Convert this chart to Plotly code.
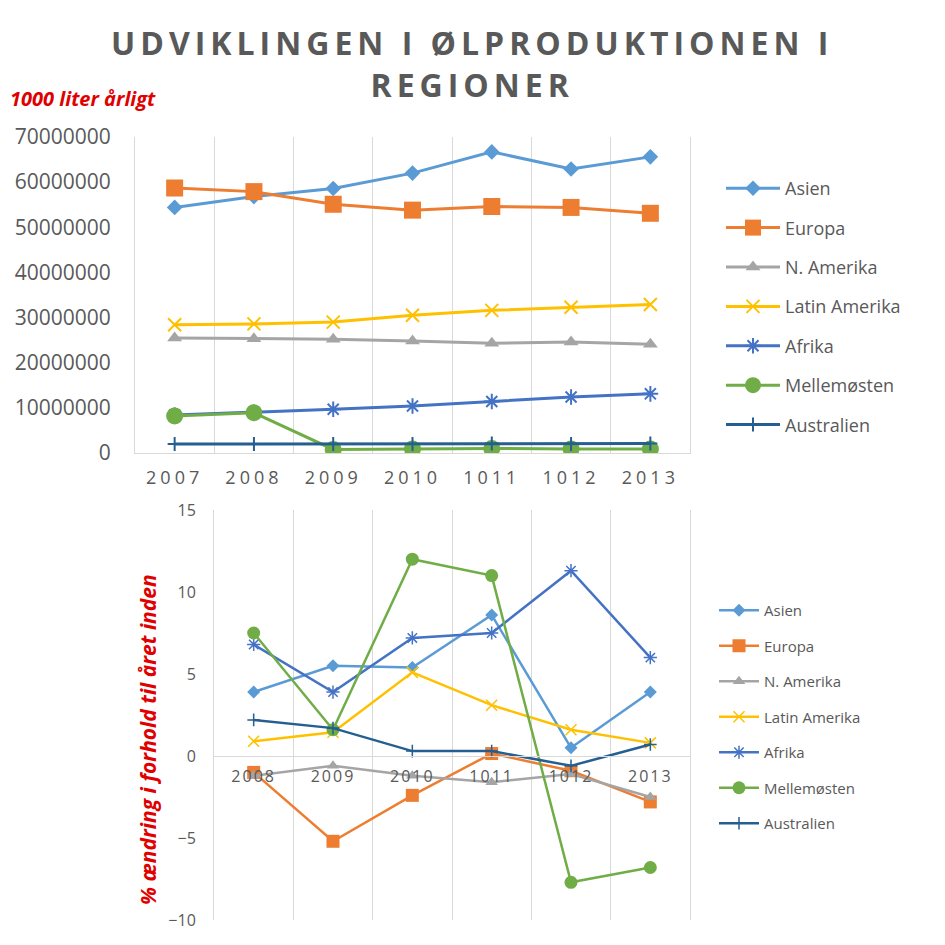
import plotly.graph_objects as go

# ---------------- data ----------------
years_top = ["2007", "2008", "2009", "2010", "1011", "1012", "2013"]
years_bottom = ["2008", "2009", "2010", "1011", "1012", "2013"]

regions = ["Asien", "Europa", "N. Amerika", "Latin Amerika", "Afrika", "Mellemøsten", "Australien"]

# production, 1000 liter per year
asien_prod = [54400000, 56800000, 58600000, 62000000, 66700000, 62900000, 65600000]
europa_prod = [58700000, 57900000, 55100000, 53800000, 54600000, 54400000, 53100000]
namerika_prod = [25500000, 25300000, 25200000, 24800000, 24300000, 24600000, 24100000]
latin_prod = [28400000, 28600000, 29000000, 30500000, 31600000, 32300000, 32900000]
afrika_prod = [8400000, 9000000, 9700000, 10400000, 11400000, 12400000, 13100000]
mellem_prod = [8200000, 8900000, 800000, 900000, 1000000, 900000, 900000]
austr_prod = [2000000, 2000000, 2000000, 2000000, 2100000, 2000000, 2100000]

# % change vs previous year
asien_pct = [3.9, 5.5, 5.4, 8.6, 0.5, 3.9]
europa_pct = [-1.0, -5.2, -2.4, 0.15, -0.9, -2.8]
namerika_pct = [-1.2, -0.6, -1.2, -1.6, -1.1, -2.5]
latin_pct = [0.9, 1.45, 5.1, 3.1, 1.6, 0.8]
afrika_pct = [6.8, 3.9, 7.2, 7.5, 11.3, 6.0]
mellem_pct = [7.5, 1.6, 12.0, 11.0, -7.7, -6.8]
austr_pct = [2.2, 1.7, 0.3, 0.3, -0.6, 0.7]

prod_series = [asien_prod, europa_prod, namerika_prod, latin_prod, afrika_prod, mellem_prod, austr_prod]
pct_series = [asien_pct, europa_pct, namerika_pct, latin_pct, afrika_pct, mellem_pct, austr_pct]

colors = ["#5B9BD5", "#ED7D31", "#A5A5A5", "#FFC000", "#4472C4", "#70AD47", "#255E91"]
symbols = ["diamond", "square", "triangle-up", "x-thin-open", "asterisk-open", "circle", "cross-thin-open"]
top_sizes = [12, 17, 13, 13, 13, 17, 10]
bot_sizes = [10, 13, 11, 11, 11, 13, 9]

title_text = "UDVIKLINGEN I ØLPRODUKTIONEN I<br>REGIONER"
unit_text = "1000 liter årligt"
pct_title = "% ændring i forhold til året inden"

# ---------------- layout helpers ----------------
W = H = 945
OFF = 8  # page body margin
def px(x):
    return (x - OFF) / W
def py(y):
    return 1 - (y - OFF) / H

top_x = [px(135), px(690)]
top_y = [py(453), py(137)]
bot_x = [px(214), px(690)]
bot_y = [py(920), py(510)]
bot_range = [-10, 15]
zero_pos = bot_y[0] + (0 - bot_range[0]) / (bot_range[1] - bot_range[0]) * (bot_y[1] - bot_y[0])

GRAY = "#595959"
GRID = "#D9D9D9"

fig = go.Figure()

for i, name in enumerate(regions):
    is_open = symbols[i].endswith("-open")
    fig.add_trace(go.Scatter(
        x=years_top, y=prod_series[i], name=name, mode="lines+markers",
        xaxis="x", yaxis="y", legend="legend", legendgroup="t" + str(i),
        line=dict(color=colors[i], width=3),
        marker=dict(symbol=symbols[i], size=top_sizes[i], color=colors[i],
                    line=dict(color=colors[i], width=2 if is_open else 0)),
    ))

for i, name in enumerate(regions):
    is_open = symbols[i].endswith("-open")
    fig.add_trace(go.Scatter(
        x=years_bottom, y=pct_series[i], name=name, mode="lines+markers",
        xaxis="x2", yaxis="y2", legend="legend2", legendgroup="b" + str(i),
        line=dict(color=colors[i], width=2.5),
        marker=dict(symbol=symbols[i], size=bot_sizes[i], color=colors[i],
                    line=dict(color=colors[i], width=1.5 if is_open else 0)),
    ))

def spaced(labels, sp):
    return ["<span style='letter-spacing:%spx'>%s</span>" % (sp, l) for l in labels]

fig.update_layout(
    width=W, height=H, margin=dict(l=0, r=0, t=0, b=0, autoexpand=False),
    paper_bgcolor="white", plot_bgcolor="white",
    font=dict(family="Open Sans", color=GRAY),
    xaxis=dict(domain=top_x, anchor="y", type="category", automargin=False,
               range=[-0.5, len(years_top) - 0.5],
               tickmode="array", tickvals=years_top, ticktext=spaced(years_top, 4),
               tickson="boundaries", ticks="", showgrid=True, gridcolor=GRID, gridwidth=1,
               showline=True, linecolor=GRID, linewidth=1, ticklabelstandoff=8,
               tickfont=dict(size=18, color=GRAY), zeroline=False),
    yaxis=dict(domain=top_y, anchor="x", range=[0, 70000000], dtick=10000000, automargin=False,
               tickformat="d", showgrid=False, zeroline=False,
               showline=True, mirror=True, linecolor=GRID, linewidth=1,
               ticks="", tickfont=dict(size=21, color=GRAY), ticklabelstandoff=19),
    xaxis2=dict(domain=bot_x, anchor="free", position=zero_pos, type="category", automargin=False,
                range=[-0.5, len(years_bottom) - 0.5],
                tickmode="array", tickvals=years_bottom, ticktext=spaced(years_bottom, 2),
                tickson="boundaries", ticks="", showgrid=True, gridcolor=GRID, gridwidth=1,
                showline=True, linecolor=GRID, linewidth=1, ticklabelstandoff=6,
                tickfont=dict(size=16, color=GRAY), zeroline=False),
    yaxis2=dict(domain=bot_y, anchor="x2", range=bot_range, dtick=5, automargin=False,
                showgrid=False, zeroline=False,
                showline=True, mirror=True, linecolor=GRID, linewidth=1, ticks="",
                tickfont=dict(size=16, color=GRAY), ticklabelstandoff=14),
    legend=dict(x=px(721), y=py(170), xanchor="left", yanchor="top",
                font=dict(size=18, color=GRAY), itemwidth=54, tracegroupgap=13,
                traceorder="grouped", bgcolor="rgba(0,0,0,0)"),
    legend2=dict(x=px(714), y=py(594), xanchor="left", yanchor="top",
                 font=dict(size=15, color=GRAY), itemwidth=40, tracegroupgap=13,
                 traceorder="grouped", bgcolor="rgba(0,0,0,0)"),
    showlegend=True,
)

fig.add_annotation(
    text="<span style='letter-spacing:5px'>" + title_text.replace("<br>", "</span><br><span style='letter-spacing:5px'>") + "</span>",
    x=px(472), y=py(64), xref="paper", yref="paper", xanchor="center", yanchor="middle",
    showarrow=False, font=dict(family="Open Sans", size=32, color=GRAY, weight="bold"),
)
fig.add_annotation(
    text="<b><i>" + unit_text + "</i></b>", x=px(8), y=py(98), xref="paper", yref="paper",
    xanchor="left", yanchor="middle", showarrow=False,
    font=dict(family="Open Sans", size=20, color="#E00000"),
)
fig.add_annotation(
    text="<b><i>" + pct_title + "</i></b>", x=px(148), y=py(740), xref="paper", yref="paper",
    xanchor="center", yanchor="middle", textangle=-90, showarrow=False,
    font=dict(family="Open Sans", size=21, color="#E00000"),
)

fig.write_html("out.html")
